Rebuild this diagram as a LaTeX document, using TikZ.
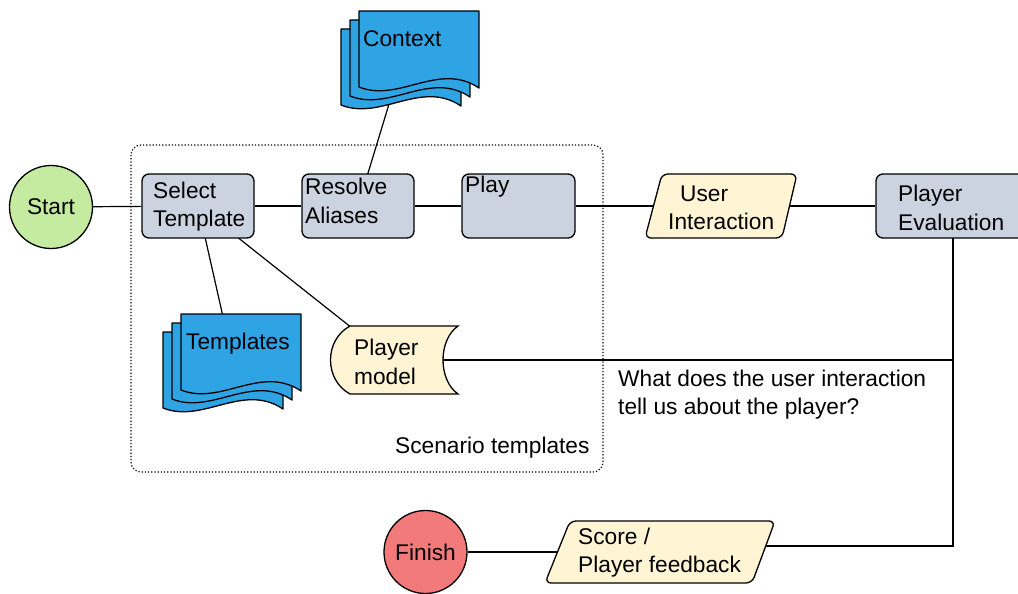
\documentclass[tikz,border=0pt]{standalone}
\usepackage{fontspec}
\setmainfont{Liberation Sans}
\pgfdeclarelayer{bg}
\pgfsetlayers{bg,main}
\definecolor{boxfill}{HTML}{CBD3E0}
\definecolor{docblue}{HTML}{2FA4E4}
\definecolor{paper}{HTML}{FFF5D5}
\definecolor{startg}{HTML}{C4EBA0}
\definecolor{finr}{HTML}{F27A7A}
\begin{document}
\begin{tikzpicture}[x=1pt,y=-1pt,
  font=\fontsize{22.7}{28.5}\selectfont,
  conn/.style={draw, line width=1.2pt},
  box/.style={draw, line width=1.3pt, fill=boxfill, rounded corners=7pt, inner sep=0pt, minimum height=64pt},
  circ/.style={draw, line width=1.3pt, circle, minimum size=83pt, inner sep=0pt},
  docst/.style={draw, line width=1.3pt, fill=docblue, line join=round},
  para/.style={draw, line width=1.3pt, fill=paper, rounded corners=6pt},
  ghost/.style={inner sep=0pt, minimum height=64pt},
  lbl/.style={inner sep=0pt, align=left}]
\useasboundingbox (0,0) rectangle (1018,594);

% frame
\draw[dotted, line width=1.2pt, rounded corners=10pt] (131,145) rectangle (603,472);

% main nodes
\node[circ, fill=startg] (start) at (51,207) {Start};
\node[box, minimum width=112pt] (sel) at (198,206) {};
\node[box, minimum width=112pt] (res) at (358,206) {};
\node[box, minimum width=113pt] (play) at (518.5,206) {};
\node[box, minimum width=154pt] (pe) at (953,206) {};
\node[circ, fill=finr] (fin) at (425.5,552) {Finish};

% user interaction parallelogram
\path[para] (662,174) -- (797,174) -- (782,238) -- (645,238) -- cycle;
\node[ghost, minimum width=136pt] (ui) at (721.5,206) {};
% score parallelogram
\path[para] (570,521) -- (775,521) -- (752,583) -- (545,583) -- cycle;
\node[ghost, minimum width=206pt] (sc) at (660.5,552) {};

% player model (stored data)
\path[draw, line width=1.3pt, fill=paper] (350,326) -- (458,326) .. controls (438,340) and (438,380) .. (458,394) -- (350,394) .. controls (324,380) and (324,340) .. (350,326) -- cycle;
\node[inner sep=0pt, minimum width=110pt, minimum height=68pt] (pm) at (394,360) {};

% documents
\foreach \dx/\dy in {-18/18,-9/9,0/0}
  \path[docst, shift={(359+\dx,11+\dy)}] (0,0) -- (120,0) -- (120,77) .. controls (80,50) and (40,92) .. (0,76) -- cycle;
\foreach \dx/\dy in {-18/18,-9/9,0/0}
  \path[docst, shift={(181+\dx,314+\dy)}] (0,0) -- (120,0) -- (120,77) .. controls (80,50) and (40,92) .. (0,76) -- cycle;
\coordinate (ctxA) at (400,68);
\coordinate (tplA) at (226,330);
\coordinate (pmA) at (352,328);
\coordinate (scA) at (765,546);

% labels
\node[lbl, anchor=west] (selt) at (153,206.5) {Select\\Template};
\node[lbl, anchor=west] (rest) at (305,201) {Resolve\\Aliases};
\node[lbl, anchor=west] (playt) at (465,187) {Play};
\node[lbl, anchor=west] (uit) at (668,208) {\hspace{12pt}User\\Interaction};
\node[lbl, anchor=west] (pet) at (898,208) {Player\\Evaluation};
\node[lbl, anchor=west] (ctxt) at (363,39) {Context};
\node[lbl, anchor=west] (tplt) at (186,343.5) {Templates};
\node[lbl, anchor=west] (pmt) at (354,362) {Player\\model};
\node[lbl, anchor=west] (sct) at (578,552.5) {Score /\\Player feedback};
\node[lbl, anchor=west] (q) at (618,394.5) {What does the user interaction\\tell us about the player?};
\node[lbl, anchor=west] (scen) at (395,448) {Scenario templates};

% connectors
\begin{pgfonlayer}{bg}
\draw[conn] (start) -- (sel);
\draw[conn] (sel) -- (res);
\draw[conn] (res) -- (play);
\draw[conn] (play) -- (ui);
\draw[conn] (ui) -- (pe);
\draw[conn] (res.center) -- (ctxA);
\draw[conn] (sel.center) -- (tplA);
\draw[conn] (sel.center) -- (pmA);
\draw[conn] (pm.center) -- (pm.center -| pe.center);
\draw[conn] (pe.center) |- (scA);
\draw[conn] (fin) -- (sc.center);
\end{pgfonlayer}
\end{tikzpicture}
\end{document}
